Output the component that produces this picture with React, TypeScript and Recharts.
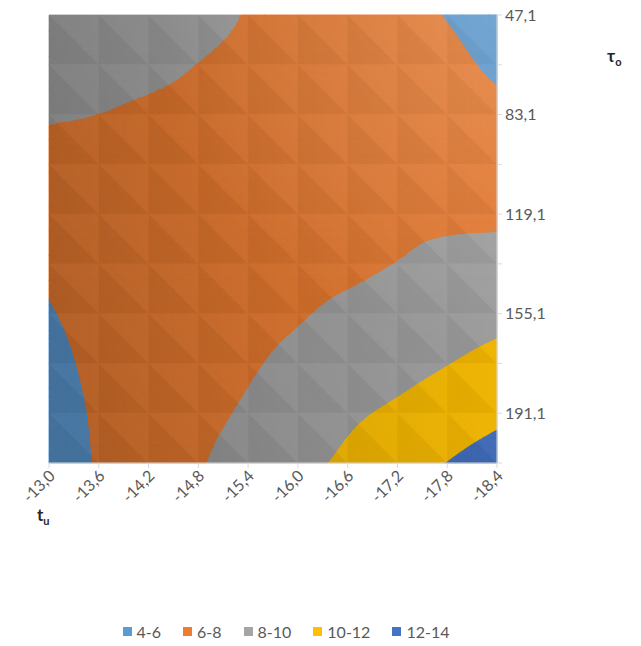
import React from 'react';
import { ComposedChart, XAxis, YAxis, ReferenceArea, Legend, Label, Scatter } from 'recharts';

// Axis categories
const tuValues = [-13.0, -13.6, -14.2, -14.8, -15.4, -16.0, -16.6, -17.2, -17.8, -18.4];
const tauValues = [47.1, 65.1, 83.1, 101.1, 119.1, 137.1, 155.1, 173.1, 191.1, 209.1];

// Contour bands
const bandNames = ['4-6', '6-8', '8-10', '10-12', '12-14'];
const bandLower = [4, 6, 8, 10, 12];
const bandUpper = [6, 8, 10, 12, 14];
const bandColors = ['#5B9BD5', '#ED7D31', '#A5A5A5', '#FFC000', '#4472C4'];

// Surface values, one row per τo value (top to bottom), one column per tu value
const z47 = [9.6, 9.21, 8.8, 8.38, 7.93, 7.46, 6.98, 6.47, 5.94, 5.4];
const z65 = [8.83, 8.59, 8.32, 7.98, 7.74, 7.42, 7.08, 6.72, 6.34, 5.75];
const z83 = [8.13, 7.99, 7.8, 7.7, 7.58, 7.45, 7.25, 7.04, 6.81, 6.4];
const z101 = [7.5, 7.55, 7.58, 7.59, 7.58, 7.55, 7.5, 7.43, 7.34, 7.23];
const z119 = [6.94, 7.14, 7.31, 7.46, 7.6, 7.72, 7.81, 7.85, 7.8, 7.75];
const z137 = [6.3, 6.79, 7.11, 7.41, 7.6, 7.7, 7.75, 8.02, 8.3, 8.5];
const z155 = [5.9, 6.52, 6.98, 7.43, 7.7, 7.9, 8.3, 8.8, 9.2, 9.5];
const z173 = [5.6, 6.32, 6.93, 7.45, 7.85, 8.35, 8.9, 9.4, 9.95, 10.5];
const z191 = [5.41, 6.18, 6.94, 7.6, 8.2, 9.0, 9.7, 10.3, 11.0, 11.6];
const z209 = [5.2, 6.12, 7.03, 7.85, 8.7, 9.55, 10.3, 11.25, 12.02, 12.8];
const zRows = [z47, z65, z83, z101, z119, z137, z155, z173, z191, z209];

const FONT = 'Lato, "Open Sans", sans-serif';
const TEXT = '#595959';
const AXIS = '#D9D9D9';
const SUB = 6; // smoothing subdivisions per cell side

const fmt = (v: number) => v.toFixed(1).replace('.', ',');

const nodes = zRows.flatMap((row, r) => row.map((z, c) => ({ x: c, y: r, z })));

type P = [number, number, number];

// Node value with linear extension past the grid edge
function nodeZ(r: number, c: number): number {
  const n = zRows.length - 1;
  const m = zRows[0].length - 1;
  if (r < 0) return 2 * nodeZ(0, c) - nodeZ(1, c);
  if (r > n) return 2 * nodeZ(n, c) - nodeZ(n - 1, c);
  if (c < 0) return 2 * nodeZ(r, 0) - nodeZ(r, 1);
  if (c > m) return 2 * nodeZ(r, m) - nodeZ(r, m - 1);
  return zRows[r][c];
}

const cr = (p0: number, p1: number, p2: number, p3: number, t: number) =>
  0.5 * (2 * p1 + (-p0 + p2) * t + (2 * p0 - 5 * p1 + 4 * p2 - p3) * t * t + (-p0 + 3 * p1 - 3 * p2 + p3) * t * t * t);

// Smooth surface value inside cell (r, c) at fractional position (s across, t down)
function smoothZ(r: number, c: number, s: number, t: number): number {
  const rowVals = [-1, 0, 1, 2].map((dr) =>
    cr(nodeZ(r + dr, c - 1), nodeZ(r + dr, c), nodeZ(r + dr, c + 1), nodeZ(r + dr, c + 2), s)
  );
  return cr(rowVals[0], rowVals[1], rowVals[2], rowVals[3], t);
}

// Keep the part of a polygon on one side of a level, interpolating along edges
function clipLevel(poly: P[], level: number, keepAbove: boolean): P[] {
  const out: P[] = [];
  for (let i = 0; i < poly.length; i++) {
    const a = poly[i];
    const b = poly[(i + 1) % poly.length];
    const ina = keepAbove ? a[2] >= level : a[2] <= level;
    const inb = keepAbove ? b[2] >= level : b[2] <= level;
    if (ina) out.push(a);
    if (ina !== inb) {
      const t = (level - a[2]) / (b[2] - a[2]);
      out.push([a[0] + t * (b[0] - a[0]), a[1] + t * (b[1] - a[1]), level]);
    }
  }
  return out;
}

const pts = (poly: P[]) => poly.map((p) => `${p[0].toFixed(2)},${p[1].toFixed(2)}`).join(' ');

// One grid cell of the surface, filled by contour band and split along its "\" diagonal
const SurfaceCell = (props: any) => {
  const { x, y, width, height, r, c } = props;
  if (x == null || y == null) return <g />;
  const grid: P[][] = [];
  for (let j = 0; j <= SUB; j++) {
    const row: P[] = [];
    for (let i = 0; i <= SUB; i++) {
      const s = i / SUB;
      const t = j / SUB;
      row.push([x + s * width, y + t * height, smoothZ(r, c, s, t)]);
    }
    grid.push(row);
  }
  const polys: React.ReactNode[] = [];
  for (let j = 0; j < SUB; j++) {
    for (let i = 0; i < SUB; i++) {
      const tl = grid[j][i];
      const tr = grid[j][i + 1];
      const bl = grid[j + 1][i];
      const br = grid[j + 1][i + 1];
      const tris: P[][] = [
        [tl, tr, br],
        [tl, br, bl],
      ];
      tris.forEach((tri, ti) => {
        bandLower.forEach((lo, bi) => {
          const part = clipLevel(clipLevel(tri, lo, true), bandUpper[bi], false);
          if (part.length >= 3) {
            polys.push(
              <polygon
                key={`${j}-${i}-${ti}-${bi}`}
                points={pts(part)}
                fill={bandColors[bi]}
                stroke={bandColors[bi]}
                strokeWidth={1}
                strokeLinejoin="round"
              />
            );
          }
        });
      });
    }
  }
  const TL: P = [x, y, 0];
  const TR: P = [x + width, y, 0];
  const BR: P = [x + width, y + height, 0];
  const BL: P = [x, y + height, 0];
  return (
    <g>
      {polys}
      <polygon points={pts([TL, TR, BR])} fill="#ffffff" fillOpacity={0.02} />
      <polygon points={pts([TL, BR, BL])} fill="#000000" fillOpacity={0.045} />
    </g>
  );
};

// Soft lighting across the whole surface
const SurfaceLight = (props: any) => {
  const { x, y, width, height } = props;
  if (x == null) return <g />;
  return (
    <g>
      <defs>
        <linearGradient id="surfaceShade" x1="0" y1="0.6" x2="1" y2="0.4">
          <stop offset="0" stopColor="#000000" stopOpacity={0.24} />
          <stop offset="0.5" stopColor="#000000" stopOpacity={0.13} />
          <stop offset="1" stopColor="#000000" stopOpacity={0.05} />
        </linearGradient>
        <radialGradient id="surfaceGlow" cx="1" cy="0" r="0.75">
          <stop offset="0" stopColor="#ffffff" stopOpacity={0.16} />
          <stop offset="1" stopColor="#ffffff" stopOpacity={0} />
        </radialGradient>
      </defs>
      <rect x={x} y={y} width={width} height={height} fill="url(#surfaceShade)" />
      <rect x={x} y={y} width={width} height={height} fill="url(#surfaceGlow)" />
    </g>
  );
};

const TuTick = (props: any) => {
  const { x, y, payload } = props;
  const ax = x + 3;
  const ay = y + 3;
  return (
    <text
      x={ax}
      y={ay}
      dy="0.35em"
      transform={`rotate(-45 ${ax} ${ay})`}
      textAnchor="end"
      fill={TEXT}
      fontSize={16}
      fontFamily={FONT}
    >
      {fmt(tuValues[payload.value])}
    </text>
  );
};

const TauTitle = (props: any) => {
  const vb = props.viewBox || {};
  return (
    <text x={vb.x + 110} y={vb.y + 47} fill="#262626" fontFamily={FONT} fontWeight="bold" fontSize={17}>
      τ
      <tspan fontSize={11} dy={4}>o</tspan>
    </text>
  );
};

const TuTitle = (props: any) => {
  const vb = props.viewBox || {};
  return (
    <text x={vb.x - 12} y={vb.y + 58} fill="#262626" fontFamily={FONT} fontWeight="bold" fontSize={17}>
      t
      <tspan fontSize={11} dy={4}>u</tspan>
    </text>
  );
};

const BandLegend = () => (
  <div
    style={{
      display: 'flex',
      justifyContent: 'center',
      alignItems: 'center',
      height: 20,
      fontFamily: FONT,
      fontSize: 16,
      color: TEXT,
      whiteSpace: 'nowrap',
    }}
  >
    {bandNames.map((name, i) => (
      <span key={name} style={{ display: 'inline-flex', alignItems: 'center', marginRight: i < bandNames.length - 1 ? 22 : 0 }}>
        <span style={{ display: 'inline-block', width: 9, height: 9, background: bandColors[i], marginRight: 5 }} />
        {name}
      </span>
    ))}
  </div>
);

const cells: { r: number; c: number }[] = [];
for (let r = 0; r < zRows.length - 1; r++) {
  for (let c = 0; c < tuValues.length - 1; c++) cells.push({ r, c });
}

const indexTicks = tuValues.map((_, i) => i);

export default function App() {
  return (
    <div style={{ position: 'absolute', left: 0, top: 0, width: 641, height: 646, background: '#fff' }}>
      <ComposedChart width={641} height={646} margin={{ top: 15, right: 24, bottom: 5, left: 49 }} data={nodes}>
        <XAxis
          dataKey="x"
          type="number"
          domain={[0, 9]}
          ticks={indexTicks}
          interval={0}
          allowDataOverflow
          height={158}
          tick={<TuTick />}
          tickSize={5}
          tickLine={{ stroke: AXIS }}
          axisLine={{ stroke: AXIS }}
        >
          <Label content={<TuTitle />} />
        </XAxis>
        <YAxis
          dataKey="y"
          type="number"
          orientation="right"
          domain={[0, 9]}
          reversed
          ticks={indexTicks}
          interval={0}
          allowDataOverflow
          width={120}
          tickSize={5}
          tickMargin={3}
          tickLine={{ stroke: AXIS }}
          axisLine={{ stroke: AXIS }}
          tick={{ fill: TEXT, fontSize: 16, fontFamily: FONT }}
          tickFormatter={(i: number) => (i % 2 === 0 ? fmt(tauValues[i]) : '')}
        >
          <Label content={<TauTitle />} />
        </YAxis>
        {cells.map(({ r, c }) => (
          <ReferenceArea
            key={`cell-${r}-${c}`}
            x1={c}
            x2={c + 1}
            y1={r}
            y2={r + 1}
            shape={(p: any) => <SurfaceCell {...p} r={r} c={c} />}
          />
        ))}
        <ReferenceArea x1={0} x2={9} y1={0} y2={9} shape={(p: any) => <SurfaceLight {...p} />} />
        <Scatter dataKey="z" shape={() => <g />} isAnimationActive={false} legendType="none" />
        <Legend verticalAlign="bottom" wrapperStyle={{ left: 0, width: 572 }} content={<BandLegend />} />
      </ComposedChart>
    </div>
  );
}
